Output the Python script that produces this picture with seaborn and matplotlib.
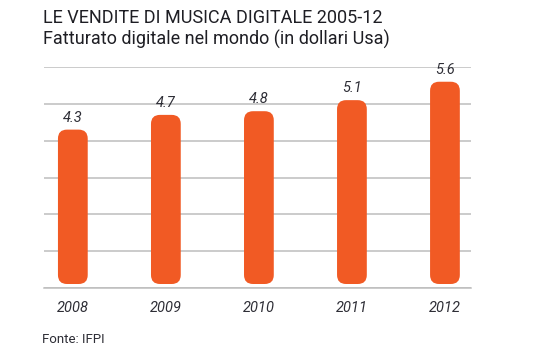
import matplotlib
matplotlib.use("Agg")
import matplotlib.pyplot as plt
import seaborn as sns
import pandas as pd
from matplotlib.patches import FancyBboxPatch

years = ["2008", "2009", "2010", "2011", "2012"]
values = [4.3, 4.7, 4.8, 5.1, 5.6]
value_labels = ["4.3", "4.7", "4.8", "5.1", "5.6"]
title = "LE VENDITE DI MUSICA DIGITALE 2005-12"
subtitle = "Fatturato digitale nel mondo (in dollari Usa)"
source = "Fonte: IFPI"

sns.set_theme(style="white")
plt.rcParams["font.family"] = ["Roboto", "DejaVu Sans"]

df = pd.DataFrame({"anno": years, "valore": values})

W, H = 553, 357
fig = plt.figure(figsize=(W / 100, H / 100), dpi=100)
ax_l, ax_r, ax_t, ax_b = 44, 471, 67, 288
ax = fig.add_axes([ax_l / W, 1 - ax_b / H, (ax_r - ax_l) / W, (ax_b - ax_t) / H])

orange = "#F15A24"
sns.barplot(data=df, x="anno", y="valore", color=orange, width=0.32, ax=ax,
            saturation=1)

xlim = (-0.31, 4.28)
ylim = (0, 6)
ax.set_xlim(*xlim)
ax.set_ylim(*ylim)

px_x = (ax_r - ax_l) / (xlim[1] - xlim[0])
px_y = (ax_b - ax_t) / (ylim[1] - ylim[0])
aspect = px_x / px_y
r = 9 / px_x
gap = 4 / px_y

for p in list(ax.patches):
    x0, w, h = p.get_x(), p.get_width(), p.get_height()
    p.set_visible(False)
    box = FancyBboxPatch((x0, gap), w, h - gap,
                         boxstyle=f"round,pad=0,rounding_size={r}",
                         mutation_aspect=aspect, facecolor=orange,
                         edgecolor="none", zorder=3)
    ax.add_patch(box)

txt = "#2e2e36"
for i, (v, lab) in enumerate(zip(values, value_labels)):
    ax.text(i, v + 0.13, lab, ha="center", va="bottom", fontsize=10.5,
            style="italic", color=txt)

ax.set_yticks(range(0, 7))
ax.yaxis.grid(True, color="#bdbdbd", linewidth=1.1)
ax.set_axisbelow(True)
ax.tick_params(axis="y", left=False, labelleft=False)
ax.tick_params(axis="x", bottom=False, pad=3)
for lab in ax.get_xticklabels():
    lab.set_fontstyle("italic")
    lab.set_fontsize(10.5)
    lab.set_color(txt)
ax.set_xlabel("")
ax.set_ylabel("")
for s in ["top", "right", "left"]:
    ax.spines[s].set_visible(False)
ax.spines["bottom"].set_color("#bdbdbd")
ax.spines["bottom"].set_linewidth(1.1)

fig.text(43 / W, 1 - 9 / H, title, ha="left", va="top", fontsize=13,
         color="#1e1e24")
fig.text(43 / W, 1 - 30 / H, subtitle, ha="left", va="top", fontsize=13,
         color="#1e1e24")
fig.text(42 / W, 1 - 333 / H, source, ha="left", va="top", fontsize=9.5,
         color=txt)

fig.savefig("out.png", dpi=100)
